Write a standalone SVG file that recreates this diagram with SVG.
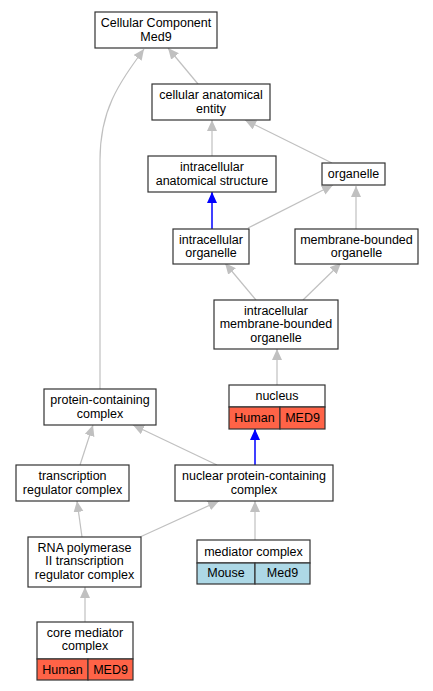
<svg xmlns="http://www.w3.org/2000/svg" width="433" height="691" viewBox="0 0 433 691">
<style>
text{font-family:"Liberation Sans",Arial,sans-serif;font-size:12.5px;fill:#000;text-anchor:middle}
.b{fill:#fff;stroke:#333;stroke-width:1.2}
.h{fill:#ff6347;stroke:#333;stroke-width:1.2}
.m{fill:#add8e6;stroke:#333;stroke-width:1.2}
.e{fill:none;stroke:#c0c0c0;stroke-width:1.2}
.eb{fill:none;stroke:#0000ff;stroke-width:1.5}
</style>
<defs>
<marker id="ag" markerUnits="userSpaceOnUse" markerWidth="12" markerHeight="11" refX="11" refY="5" orient="auto"><path d="M0,0 L11,5 L0,10 z" fill="#c0c0c0"/></marker>
<marker id="ab" markerUnits="userSpaceOnUse" markerWidth="12" markerHeight="11" refX="11" refY="5" orient="auto"><path d="M0,0 L11,5 L0,10 z" fill="#0000ff"/></marker>
</defs>
<g id="edges">
<path class="e" d="M100,389 L100,160 C100,110 118,85 144,49" marker-end="url(#ag)"/>
<path class="e" d="M198,84 L168,48" marker-end="url(#ag)"/>
<path class="e" d="M212,156 L212,120" marker-end="url(#ag)"/>
<path class="e" d="M332,163 L245,120" marker-end="url(#ag)"/>
<path class="eb" d="M212,229 L212,192" marker-end="url(#ab)"/>
<path class="e" d="M248,228 L333,185" marker-end="url(#ag)"/>
<path class="e" d="M356,229 L356,186" marker-end="url(#ag)"/>
<path class="e" d="M256,300 L225,263" marker-end="url(#ag)"/>
<path class="e" d="M303,300 L341,263" marker-end="url(#ag)"/>
<path class="e" d="M277,385 L277,349" marker-end="url(#ag)"/>
<path class="eb" d="M255,465 L255,429" marker-end="url(#ab)"/>
<path class="e" d="M217,465 L133,425" marker-end="url(#ag)"/>
<path class="e" d="M80,465 L93,425" marker-end="url(#ag)"/>
<path class="e" d="M82,537 L77,501" marker-end="url(#ag)"/>
<path class="e" d="M140,537 L219,501" marker-end="url(#ag)"/>
<path class="e" d="M255,540 L255,501" marker-end="url(#ag)"/>
<path class="e" d="M85,622 L85,587" marker-end="url(#ag)"/>
</g>
<g id="n_cc"><rect class="b" x="95" y="12" width="122" height="36"/><text x="156" y="27">Cellular Component</text><text x="156" y="40.5">Med9</text></g>
<g id="n_cae"><rect class="b" x="152" y="84" width="118" height="36"/><text x="211" y="99">cellular anatomical</text><text x="211" y="112.5">entity</text></g>
<g id="n_ias"><rect class="b" x="148" y="156" width="128" height="36"/><text x="212" y="171">intracellular</text><text x="212" y="184.5">anatomical structure</text></g>
<g id="n_org"><rect class="b" x="322" y="163" width="63" height="22"/><text x="353.5" y="178">organelle</text></g>
<g id="n_io"><rect class="b" x="173" y="229" width="76" height="35"/><text x="211" y="243.5">intracellular</text><text x="211" y="257">organelle</text></g>
<g id="n_mbo"><rect class="b" x="295" y="229" width="123" height="35"/><text x="356.5" y="243.5">membrane-bounded</text><text x="356.5" y="257">organelle</text></g>
<g id="n_imbo"><rect class="b" x="214" y="300" width="124" height="49"/><text x="276" y="314.5">intracellular</text><text x="276" y="328">membrane-bounded</text><text x="276" y="341.5">organelle</text></g>
<g id="n_nuc"><rect class="b" x="229" y="385" width="96" height="22"/><rect class="h" x="229" y="407" width="51" height="22"/><rect class="h" x="280" y="407" width="45" height="22"/><text x="277" y="400">nucleus</text><text x="254.5" y="422">Human</text><text x="302.5" y="422">MED9</text></g>
<g id="n_pcc"><rect class="b" x="44" y="389" width="112" height="36"/><text x="100" y="404">protein-containing</text><text x="100" y="417.5">complex</text></g>
<g id="n_trc"><rect class="b" x="16" y="465" width="113" height="36"/><text x="72.5" y="480">transcription</text><text x="72.5" y="493.5">regulator complex</text></g>
<g id="n_npcc"><rect class="b" x="175" y="465" width="158" height="36"/><text x="254" y="480">nuclear protein-containing</text><text x="254" y="493.5">complex</text></g>
<g id="n_rnap"><rect class="b" x="28" y="537" width="113" height="50"/><text x="84.5" y="551.5">RNA polymerase</text><text x="84.5" y="565">II transcription</text><text x="84.5" y="578.5">regulator complex</text></g>
<g id="n_med"><rect class="b" x="197" y="540" width="113" height="23"/><rect class="m" x="197" y="563" width="58" height="21"/><rect class="m" x="255" y="563" width="55" height="21"/><text x="253.5" y="555.5">mediator complex</text><text x="226" y="577">Mouse</text><text x="282.5" y="577">Med9</text></g>
<g id="n_core"><rect class="b" x="37" y="622" width="96" height="37"/><rect class="h" x="37" y="659" width="51" height="21"/><rect class="h" x="88" y="659" width="45" height="21"/><text x="85" y="636.5">core mediator</text><text x="85" y="650">complex</text><text x="62.5" y="673.5">Human</text><text x="110.5" y="673.5">MED9</text></g>
</svg>
